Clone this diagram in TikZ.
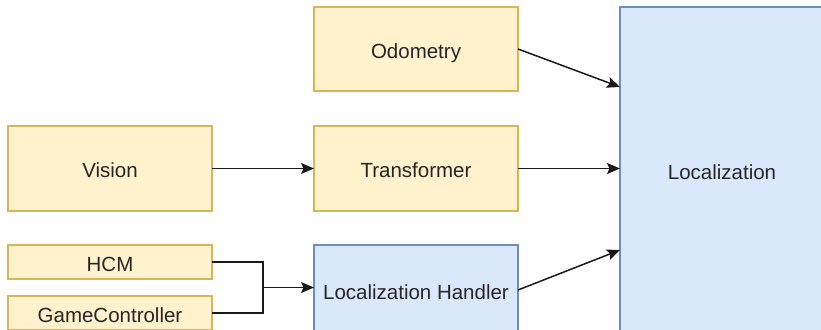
\documentclass[tikz,border=0pt]{standalone}
\usepackage{fontspec}
\setmainfont{Liberation Sans}
\usetikzlibrary{arrows.meta}
\definecolor{ylwfill}{HTML}{FFF2CC}
\definecolor{ylwline}{HTML}{D6B656}
\definecolor{bluefill}{HTML}{DAE8FC}
\definecolor{blueline}{HTML}{6C8EBF}
\tikzset{
  box/.style={draw, line width=1.2pt, inner sep=0pt, outer sep=0pt, anchor=north west,
    font=\fontsize{20.5}{24}\selectfont, text=black!85,
    text height=22pt, text depth=3.7pt},
  ybox/.style={box, fill=ylwfill, draw=ylwline},
  bbox/.style={box, fill=bluefill, draw=blueline},
  wire/.style={line width=1.5pt, black!90},
  conn/.style={wire, -{Stealth[length=13pt,width=11pt,inset=2.5pt]}},
}
\begin{document}
\begin{tikzpicture}[x=1pt,y=-1pt]
\useasboundingbox (0,0) rectangle (821,329);
\node[ybox, minimum width=204pt, minimum height=84pt] (odo) at (314,7) {Odometry};
\node[bbox, minimum width=204pt, minimum height=326pt] (loc) at (620,7) {Localization};
\node[ybox, minimum width=204pt, minimum height=85pt] (vis) at (8,126) {Vision};
\node[ybox, minimum width=204pt, minimum height=85pt] (tra) at (314,126) {Transformer};
\node[ybox, minimum width=204pt, minimum height=34pt] (hcm) at (8,245) {HCM};
\node[ybox, minimum width=204pt, minimum height=34pt] (gc) at (8,296) {GameController};
\node[bbox, minimum width=204pt, minimum height=90pt] (lh) at (314,245) {Localization Handler};
\coordinate (odoend) at (620,87);
\coordinate (lhend) at (620,250);
\coordinate (joint) at (263,287.5);
\draw[conn] (odo.east) -- (odoend);
\draw[conn] (vis.east) -- (tra.west);
\draw[conn] (tra.east) -- (tra.east -| loc.west);
\draw[conn] (lh.east) -- (lhend);
\draw[wire] (hcm.east) -- (hcm.east -| joint) -- (gc.east -| joint) -- (gc.east);
\draw[conn] (joint) -- (joint -| lh.west);
\end{tikzpicture}
\end{document}
